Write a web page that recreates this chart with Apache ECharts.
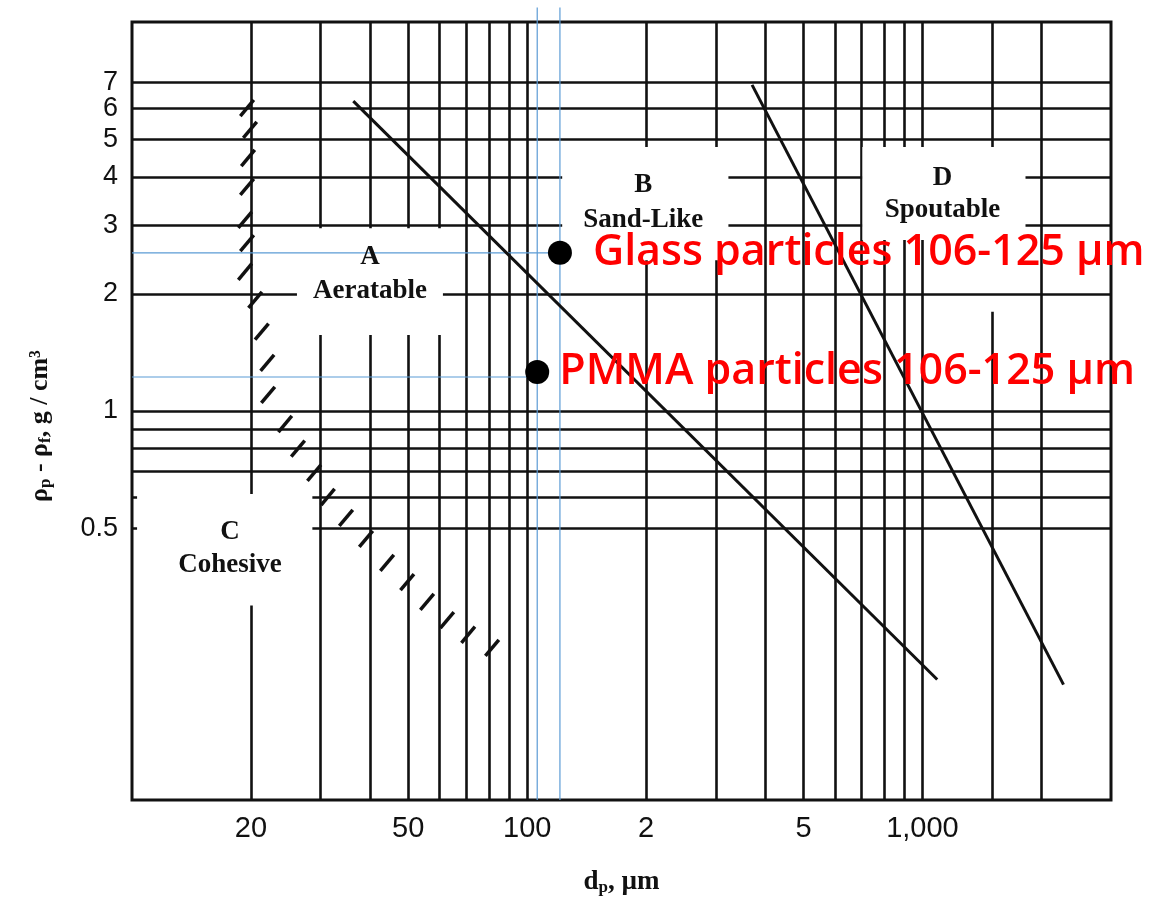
<!DOCTYPE html>
<html>
<head>
<meta charset="utf-8">
<script src="https://cdn.jsdelivr.net/npm/echarts@6/dist/echarts.min.js"></script>
<style>
html,body{margin:0;padding:0;background:#fff;}
#main{width:1151px;height:905px;}
</style>
</head>
<body>
<div id="main"></div>
<script>
// ---- data ----
const xTicks = [20, 50, 100, 200, 500, 1000];
const xTickLabels = ['20', '50', '100', '2', '5', '1,000'];
const yTicks = [0.5, 1, 2, 3, 4, 5, 6, 7];
const yTickLabels = ['0.5', '1', '2', '3', '4', '5', '6', '7'];

const xGrid = [20, 30, 40, 50, 60, 70, 80, 90, 100, 200, 300, 400, 500, 600, 700, 800, 900, 1000, 2000];
const yGrid = [0.5, 0.6, 0.7, 0.8, 0.9, 1, 2, 3, 4, 5, 6, 7];
// partial vertical grid lines: [x, yFrom, yTo]
const partialV = [[1500, 0.1, 1.8], [1500, 4.77, 10]];
// blank label boxes of the printed diagram: [x1, y1, x2, y2]
const blankBoxes = [
  [20.8, 2.03, 65.8, 2.95],
  [20.8, 1.567, 65.8, 1.97],
  [122.6, 2.44, 322.9, 4.77],
  [704.7, 2.75, 1823, 4.77],
  [10.3, 0.316, 28.6, 0.612]
];

// group boundaries
const boundaryAB = [[36.3, 6.26], [1090, 0.204]];
const boundaryBD = [[370.6, 6.89], [2275, 0.198]];
// hatch marks along the A/C boundary
const hatchX = [19.55, 19.89, 19.66, 19.55, 19.32, 19.55, 19.32, 20.5, 21.3, 22.0, 22.1, 24.4, 26.3, 28.9, 31.3, 34.8, 39.1, 44.2, 49.7, 55.8, 62.7, 70.9, 81.5];
const hatchY = [6.01, 5.28, 4.47, 3.77, 3.10, 2.70, 2.28, 1.93, 1.60, 1.33, 1.10, 0.926, 0.80, 0.693, 0.601, 0.531, 0.469, 0.407, 0.363, 0.323, 0.290, 0.266, 0.246];

// region labels
const regionText = ['A', 'Aeratable', 'B', 'Sand-Like', 'C', 'Cohesive', 'D', 'Spoutable'];
const regionX = [40.0, 40.0, 196.7, 196.7, 17.7, 17.7, 1124, 1124];
const regionY = [2.49, 2.03, 3.81, 3.10, 0.489, 0.402, 3.97, 3.29];

// measured particles
const particleNames = ['Glass particles 106-125 µm', 'PMMA particles 106-125 µm'];
const particleX = [121, 106];
const particleY = [2.55, 1.26];
// guide lines
const guideVX = [106, 121];
const guideVTop = 10.9;
const guideHY = [1.223, 2.55];
const guideHX = [106, 121];

// ---- chart ----
const chart = echarts.init(document.getElementById('main'));

function nearestLabel(v, ticks, labels) {
  let best = 0, bd = Infinity;
  for (let i = 0; i < ticks.length; i++) {
    const d = Math.abs(Math.log(v) - Math.log(ticks[i]));
    if (d < bd) { bd = d; best = i; }
  }
  return labels[best];
}

const gridLineData = []
  .concat(xGrid.map(v => ({ xAxis: v })))
  .concat(yGrid.map(v => ({ yAxis: v })))
  .concat(partialV.map(s => [{ coord: [s[0], s[1]] }, { coord: [s[0], s[2]] }]));

const maskData = blankBoxes.map(b => [{ coord: [b[0], b[1]] }, { coord: [b[2], b[3]] }]);

const guideLines = []
  .concat(guideVX.map(x => [[x, 0.1], [x, guideVTop]]))
  .concat(guideHY.map((y, i) => [[10, y], [guideHX[i], y]]));

const serif = 'Liberation Serif';
const blue = '#5b9bd5';

const series = [
  {
    type: 'line', data: [], z: 1, silent: true,
    markLine: {
      z: 1, silent: true, symbol: ['none', 'none'], label: { show: false },
      emphasis: { disabled: true },
      lineStyle: { color: '#111', width: 2.6, type: 'solid', opacity: 1 },
      data: gridLineData
    }
  },
  {
    type: 'line', data: [], z: 2, silent: true,
    markArea: {
      z: 2, silent: true, label: { show: false },
      emphasis: { disabled: true },
      itemStyle: { color: '#ffffff', opacity: 1 },
      data: maskData
    }
  }
];
guideLines.forEach(g => series.push({
  type: 'line', z: 3, silent: true, clip: false, symbol: 'none',
  lineStyle: { color: blue, width: 1.2, opacity: 1 },
  emphasis: { disabled: true },
  data: g
}));
series.push(
  {
    type: 'line', z: 4, silent: true, symbol: 'none',
    lineStyle: { color: '#111', width: 3, opacity: 1 },
    emphasis: { disabled: true },
    data: boundaryAB
  },
  {
    type: 'line', z: 4, silent: true, symbol: 'none',
    lineStyle: { color: '#111', width: 3, opacity: 1 },
    emphasis: { disabled: true },
    data: boundaryBD
  },
  {
    type: 'scatter', z: 4, silent: true,
    symbol: 'rect', symbolSize: [3.5, 21], symbolRotate: -40,
    itemStyle: { color: '#111', opacity: 1 },
    emphasis: { disabled: true },
    data: hatchX.map((x, i) => [x, hatchY[i]])
  },
  {
    type: 'scatter', z: 5, silent: true, symbolSize: 0,
    itemStyle: { opacity: 1 },
    emphasis: { disabled: true },
    data: regionText.map((t, i) => {
      const d = { value: [regionX[i], regionY[i]], name: t };
      if (t === 'Aeratable') d.label = { backgroundColor: '#ffffff', padding: [0, 16] };
      return d;
    }),
    label: {
      show: true, position: 'inside',
      formatter: p => p.name,
      fontFamily: serif, fontWeight: 'bold', fontSize: 27, color: '#111', opacity: 1
    },
    labelLayout: { hideOverlap: false }
  },
  // y-axis tick labels, placed on the left edge of the plot through the y scale
  {
    type: 'scatter', z: 5, silent: true, clip: false, symbolSize: 0,
    itemStyle: { opacity: 1 },
    emphasis: { disabled: true },
    data: yTicks.map((v, i) => ({ value: [10, v], name: yTickLabels[i] })),
    label: {
      show: true, position: 'left', distance: 14,
      formatter: p => p.name,
      fontFamily: 'Liberation Sans', fontSize: 27, color: '#111', opacity: 1
    },
    labelLayout: { hideOverlap: false }
  },
  {
    type: 'scatter', z: 6, silent: true, symbol: 'circle', symbolSize: 24,
    itemStyle: { color: '#000', opacity: 1 },
    emphasis: { disabled: true },
    data: particleNames.map((n, i) => ({
      value: [particleX[i], particleY[i]], name: n,
      label: { distance: i === 0 ? 21 : 10 }
    })),
    label: {
      show: true, position: 'right',
      formatter: p => p.name,
      fontFamily: 'Open Sans', fontWeight: 600, fontSize: 43, color: '#ff0000', opacity: 1
    }
  }
);

const option = {
  animation: false,
  backgroundColor: '#ffffff',
  grid: {
    left: 132, right: 40, top: 22, bottom: 105,
    show: true, borderColor: '#111', borderWidth: 3, backgroundColor: 'transparent'
  },
  xAxis: {
    type: 'log', logBase: 10, min: 10, max: 3000,
    axisLine: { show: false }, axisTick: { show: false },
    splitLine: { show: false }, minorSplitLine: { show: false },
    axisLabel: {
      customValues: xTicks, interval: 0, hideOverlap: false,
      formatter: v => nearestLabel(v, xTicks, xTickLabels),
      fontFamily: 'Liberation Sans', fontSize: 29, color: '#111', margin: 14
    },
    name: '{d|d}{s|p}{d|, µm}',
    nameLocation: 'middle', nameGap: 68,
    nameTextStyle: {
      rich: {
        d: { fontFamily: serif, fontWeight: 'bold', fontSize: 27, color: '#111' },
        s: { fontFamily: serif, fontWeight: 'bold', fontSize: 17, color: '#111', padding: [11, 0, 0, 0] }
      }
    }
  },
  yAxis: {
    type: 'log', logBase: 10, min: 0.1, max: 10,
    axisLine: { show: false }, axisTick: { show: false },
    splitLine: { show: false }, minorSplitLine: { show: false },
    axisLabel: { show: false },
    name: '{d|ρ}{s|p}{d| - ρ}{s|f}{d|, g / cm³}',
    nameLocation: 'middle', nameGap: 78, nameRotate: 90,
    nameTextStyle: {
      padding: [0, 30, 0, 0],
      rich: {
        d: { fontFamily: serif, fontWeight: 'bold', fontSize: 26, color: '#111' },
        s: { fontFamily: serif, fontWeight: 'bold', fontSize: 17, color: '#111', padding: [11, 0, 0, 0] }
      }
    }
  },
  series: series
};

chart.setOption(option);
</script>
</body>
</html>
